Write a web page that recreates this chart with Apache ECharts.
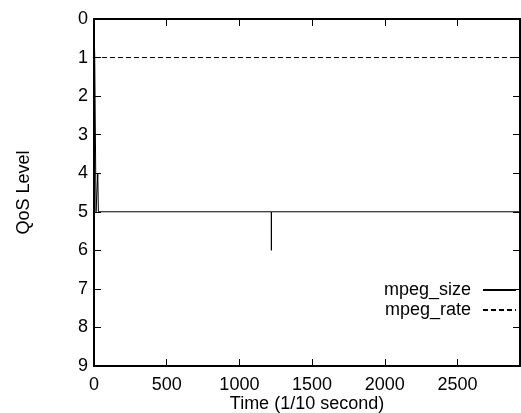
<!DOCTYPE html>
<html>
<head>
<meta charset="utf-8">
<script src="https://cdn.jsdelivr.net/npm/echarts@6/dist/echarts.min.js"></script>
<style>
  html, body { margin: 0; padding: 0; background: #fff; }
  #chart { width: 521px; height: 413px; }
</style>
</head>
<body>
<div id="chart"></div>
<script>
// QoS level over time for the MPEG stream
const xTicks = [0, 500, 1000, 1500, 2000, 2500];
const yTicks = [0, 1, 2, 3, 4, 5, 6, 7, 8, 9];
const xMax = 2930;

const sizeTime  = [0, 5, 10, 14, 26, 30, 1219, 1220, 1221, 2930];
const sizeLevel = [0, 1, 1, 5, 4, 5, 5, 6, 5, 5];

const rateTime  = [0, 2930];
const rateLevel = [1, 1];

const zip = (a, b) => a.map((v, i) => [v, b[i]]);

const FONT = 'Liberation Sans, Arial, Helvetica, sans-serif';
const tickStyle = { show: true, inside: true, length: 7, lineStyle: { color: '#000', width: 1 } };
const axisLine = { show: true, onZero: false, lineStyle: { color: '#000', width: 2 } };

const chart = echarts.init(document.getElementById('chart'), null, { renderer: 'canvas' });
chart.setOption({
  animation: false,
  backgroundColor: '#fff',
  grid: { left: 94, top: 19, right: 1, bottom: 47, containLabel: false, outerBoundsMode: 'none' },
  legend: {
    orient: 'vertical',
    align: 'right',
    right: -1,
    top: 276,
    itemWidth: 33,
    itemHeight: 14,
    itemGap: 2,
    itemStyle: { opacity: 0 },
    textStyle: { fontFamily: FONT, fontSize: 18, color: '#000', padding: [0, 7, 0, 0] },
    data: ['mpeg_size', 'mpeg_rate']
  },
  xAxis: [
    {
      type: 'value', min: 0, max: xMax, interval: 500,
      position: 'bottom',
      name: 'Time (1/10 second)', nameLocation: 'middle', nameGap: 29,
      nameMoveOverlap: false,
      nameTextStyle: { fontFamily: FONT, fontSize: 18, color: '#000' },
      axisLine: axisLine, axisTick: tickStyle,
      axisLabel: {
        fontFamily: FONT, fontSize: 18, color: '#000', margin: 10,
        showMaxLabel: false,
        formatter: v => (xTicks.indexOf(v) >= 0 ? String(v) : '')
      },
      splitLine: { show: false }
    },
    {
      type: 'value', min: 0, max: xMax, interval: 500,
      position: 'top',
      axisLine: axisLine, axisTick: tickStyle,
      axisLabel: { show: false }, splitLine: { show: false }
    }
  ],
  yAxis: [
    {
      type: 'value', min: 0, max: 9, interval: 1, inverse: true,
      position: 'left',
      name: 'QoS Level', nameLocation: 'middle', nameGap: 61, nameRotate: 90,
      nameMoveOverlap: false,
      nameTextStyle: { fontFamily: FONT, fontSize: 18, color: '#000' },
      axisLine: axisLine, axisTick: tickStyle,
      axisLabel: {
        fontFamily: FONT, fontSize: 18, color: '#000', margin: 6,
        formatter: v => (yTicks.indexOf(v) >= 0 ? String(v) : '')
      },
      splitLine: { show: false }
    },
    {
      type: 'value', min: 0, max: 9, interval: 1, inverse: true,
      position: 'right',
      axisLine: axisLine, axisTick: tickStyle,
      axisLabel: { show: false }, splitLine: { show: false }
    }
  ],
  series: [
    {
      name: 'mpeg_size', type: 'line', xAxisIndex: 0, yAxisIndex: 0,
      data: zip(sizeTime, sizeLevel),
      showSymbol: false, symbol: 'none',
      color: '#000',
      lineStyle: { color: '#000', width: 1, type: 'solid' }
    },
    {
      name: 'mpeg_rate', type: 'line', xAxisIndex: 0, yAxisIndex: 0,
      data: zip(rateTime, rateLevel),
      showSymbol: false, symbol: 'none',
      color: '#000',
      lineStyle: { color: '#000', width: 1, type: [5, 3] }
    }
  ]
});
</script>
</body>
</html>
